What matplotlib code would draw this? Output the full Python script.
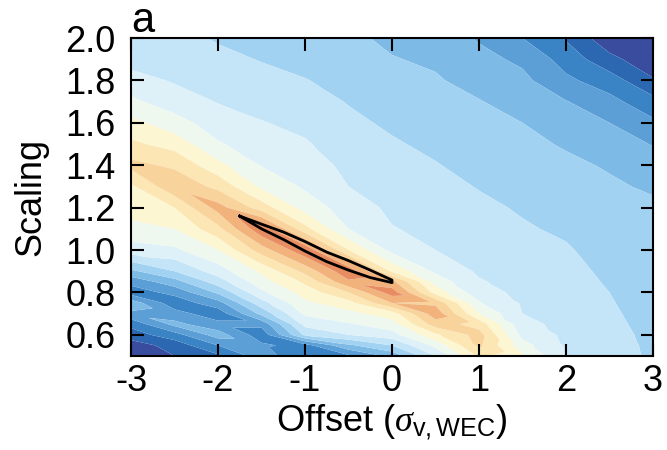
import numpy as np
import matplotlib
matplotlib.use("Agg")
import matplotlib.pyplot as plt
import matplotlib.tri as mtri

plt.rcParams['font.family'] = ['Liberation Sans', 'DejaVu Sans']
plt.rcParams['axes.unicode_minus'] = False
plt.rcParams['mathtext.fontset'] = 'custom'
plt.rcParams['mathtext.rm'] = 'Liberation Sans'
plt.rcParams['mathtext.it'] = 'Liberation Serif:italic'

# grid of the misfit surface (band index, 0 = darkest blue)
offset = [-3.0, -2.5, -2.0, -1.5, -1.0, -0.5, 0.0, 0.5, 1.0, 1.5, 2.0, 2.5, 3.0]
scaling = [0.5, 0.55, 0.6, 0.65, 0.7, 0.75, 0.8, 0.85, 0.9, 1.0, 1.1, 1.2, 1.3,
           1.4, 1.5, 1.6, 1.7, 1.8, 1.9, 2.0]
band_value = [
    [0.0, 1.0, 1.8, 3.6, 2.0, 2.8, 4.3, 7.0, 10.2, 9.2, 6.95, 6.3, 5.9],
    [0.5, 1.4, 3.0, 3.2, 2.6, 4.8, 6.0, 8.3, 11.2, 8.4, 6.9, 6.25, 5.88],
    [1.5, 2.6, 4.5, 2.4, 6.2, 7.0, 7.6, 9.8, 11.4, 7.7, 6.8, 6.2, 5.85],
    [2.3, 4.3, 3.3, 3.3, 7.3, 7.9, 8.6, 11.5, 10.6, 7.3, 6.7, 6.15, 5.8],
    [3.8, 3.4, 2.4, 5.3, 8.2, 8.7, 9.5, 12.6, 9.0, 7.0, 6.6, 6.1, 5.75],
    [4.6, 2.4, 3.6, 6.6, 8.8, 9.6, 12.0, 11.8, 8.1, 6.9, 6.52, 6.05, 5.7],
    [2.5, 3.3, 5.2, 7.8, 9.4, 11.0, 13.5, 9.6, 7.4, 6.75, 6.45, 6.0, 5.65],
    [3.3, 4.6, 6.5, 8.6, 10.2, 12.8, 12.3, 8.6, 7.1, 6.6, 6.38, 5.9, 5.6],
    [4.8, 6.0, 7.5, 9.2, 11.3, 13.8, 9.8, 7.8, 6.85, 6.5, 6.3, 5.8, 5.55],
    [7.5, 7.8, 9.0, 11.5, 13.8, 10.0, 7.7, 7.0, 6.6, 6.3, 6.1, 5.6, 5.45],
    [8.8, 9.0, 10.7, 13.8, 10.3, 8.0, 7.05, 6.75, 6.4, 6.1, 5.85, 5.45, 5.35],
    [9.3, 10.0, 12.4, 10.5, 8.6, 7.5, 6.8, 6.5, 6.2, 5.9, 5.6, 5.3, 5.2],
    [9.8, 11.8, 10.7, 8.8, 7.85, 7.0, 6.55, 6.3, 5.95, 5.65, 5.4, 5.15, 4.85],
    [11.3, 10.8, 9.3, 7.95, 7.5, 6.75, 6.35, 6.05, 5.7, 5.45, 5.2, 4.9, 4.4],
    [10.2, 9.6, 8.1, 7.5, 7.1, 6.5, 6.1, 5.8, 5.5, 5.25, 4.9, 4.45, 3.95],
    [9.3, 8.4, 7.5, 7.05, 6.75, 6.2, 5.85, 5.55, 5.3, 5.0, 4.45, 4.0, 3.2],
    [8.2, 7.5, 6.95, 6.65, 6.4, 5.95, 5.55, 5.35, 5.05, 4.6, 4.05, 3.3, 2.35],
    [7.4, 6.9, 6.6, 6.3, 6.04, 5.7, 5.3, 5.1, 4.65, 4.25, 3.2, 2.5, 1.1],
    [6.6, 6.6, 6.25, 5.95, 5.7, 5.45, 5.05, 4.85, 4.3, 3.8, 2.6, 1.3, 0.3],
    [6.2, 6.3, 5.9, 5.6, 5.35, 5.2, 4.8, 4.6, 3.9, 3.0, 1.9, 0.3, -0.8],
]

band_colors = ['#3a4c9e', '#2c67b1', '#3a83c4', '#5b9fd6', '#7ebae6', '#a2d2f2',
               '#c4e5f8', '#def1f8', '#eef8ee', '#fdf6d3', '#fce6b4', '#f9d39c',
               '#f2b27c', '#e88c62']
band_levels = [-10, 1, 2, 3, 4, 5, 6, 7, 8, 9, 10, 11, 12, 13, 30]

# best-fit region outline
loop_x = [-1.75, -1.5, -1.25, -1.0, -0.75, -0.5, -0.25, 0.0,
          0.0, -0.25, -0.5, -0.75, -1.0, -1.25, -1.5, -1.75]
loop_y = [1.160, 1.122, 1.085, 1.040, 0.990, 0.950, 0.905, 0.858,
          0.846, 0.870, 0.905, 0.945, 0.995, 1.050, 1.100, 1.160]

# triangulate the grid with diagonals running along the ridge (top-left to bottom-right)
nx, ny = len(offset), len(scaling)
gx, gy = np.meshgrid(offset, scaling)
tris = []
for j in range(ny - 1):
    for i in range(nx - 1):
        bl, br = j * nx + i, j * nx + i + 1
        tl, tr = (j + 1) * nx + i, (j + 1) * nx + i + 1
        tris.append([bl, br, tl])
        tris.append([br, tr, tl])
tri = mtri.Triangulation(gx.ravel(), gy.ravel(), np.array(tris))

fig = plt.figure(figsize=(6.67, 4.5), dpi=100)
ax = fig.add_axes([131/667, 1 - 356/450, 522/667, 318/450])

ax.tricontourf(tri, np.array(band_value).ravel(), levels=band_levels,
               colors=band_colors, antialiased=True)
ax.plot(loop_x, loop_y, color='black', lw=2.0)

ax.set_xlim(-3, 3)
ax.set_ylim(0.5, 2.0)
ax.set_xticks([-3, -2, -1, 0, 1, 2, 3])
ax.set_yticks([0.6, 0.8, 1.0, 1.2, 1.4, 1.6, 1.8, 2.0])
ax.set_yticklabels(['0.6', '0.8', '1.0', '1.2', '1.4', '1.6', '1.8', '2.0'])
ax.tick_params(direction='in', length=9, width=1.5, labelsize=26,
               top=True, right=True)
ax.tick_params(axis='x', pad=6)
ax.tick_params(axis='y', pad=11)
for sp in ax.spines.values():
    sp.set_linewidth(1.5)

ax.set_xlabel(r'Offset ($\sigma_{\mathrm{v,WEC}}$)', fontsize=26, labelpad=2)
ax.set_ylabel('Scaling', fontsize=26, labelpad=12)
ax.text(0.0, 1.019, 'a', transform=ax.transAxes, fontsize=30,
        ha='left', va='baseline')

fig.savefig('out.png', dpi=100)
